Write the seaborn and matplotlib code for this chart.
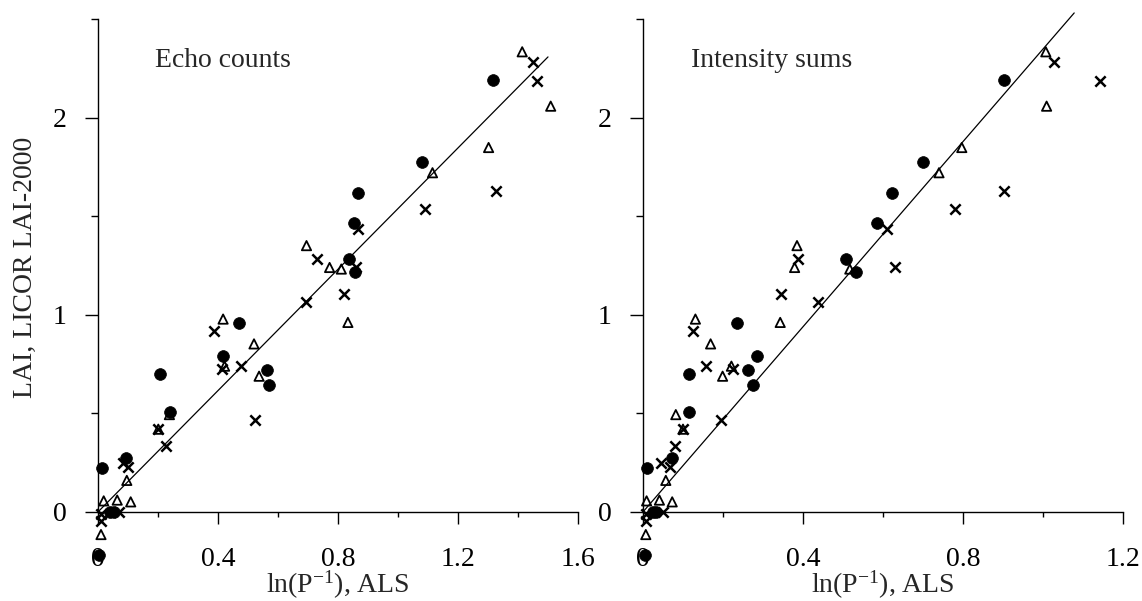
import numpy as np
import pandas as pd
import matplotlib
matplotlib.use("Agg")
import matplotlib.pyplot as plt
import seaborn as sns

sns.set_style("ticks")
plt.rcParams["font.family"] = ["Liberation Serif", "DejaVu Serif"]
plt.rcParams["mathtext.fontset"] = "custom"
plt.rcParams["mathtext.rm"] = "Liberation Serif"
plt.rcParams["mathtext.it"] = "Liberation Serif:italic"

# ---- data (LAI measured, shared by both panels) ----
circle_lai = [2.193, 1.778, 1.618, 1.467, 1.284, 1.216, 0.957, 0.790, 0.720, 0.642,
              0.702, 0.506, 0.222, 0.276, 0.0, 0.0, -0.217]
circle_echo = [1.315, 1.080, 0.868, 0.852, 0.838, 0.858, 0.469, 0.417, 0.562, 0.570,
               0.206, 0.241, 0.015, 0.093, 0.041, 0.054, 0.004]
circle_int = [0.902, 0.701, 0.623, 0.584, 0.507, 0.532, 0.236, 0.286, 0.262, 0.274,
              0.114, 0.114, 0.011, 0.073, 0.026, 0.032, 0.005]

tri_lai = [2.336, 2.060, 1.850, 1.722, 1.352, 1.241, 1.233, 0.962, 0.979, 0.853,
           0.740, 0.689, 0.494, 0.420, 0.160, 0.056, 0.060, 0.051, -0.115]
tri_echo = [1.414, 1.509, 1.302, 1.115, 0.695, 0.772, 0.811, 0.833, 0.417, 0.520,
            0.422, 0.537, 0.238, 0.201, 0.096, 0.019, 0.064, 0.109, 0.010]
tri_int = [1.007, 1.009, 0.797, 0.740, 0.385, 0.379, 0.517, 0.343, 0.131, 0.169,
           0.221, 0.199, 0.082, 0.100, 0.057, 0.009, 0.041, 0.073, 0.007]

cross_lai = [2.285, 2.190, 1.629, 1.540, 1.438, 1.282, 1.244, 1.108, 1.064, 0.916,
             0.724, 0.742, 0.466, 0.420, 0.334, 0.249, 0.226, 0.0, -0.012, -0.045]
cross_echo = [1.451, 1.463, 1.327, 1.089, 0.865, 0.731, 0.860, 0.819, 0.695, 0.385,
              0.414, 0.478, 0.522, 0.201, 0.228, 0.082, 0.099, 0.070, 0.010, 0.010]
cross_int = [1.027, 1.142, 0.902, 0.781, 0.610, 0.388, 0.630, 0.344, 0.438, 0.125,
             0.226, 0.158, 0.196, 0.100, 0.080, 0.046, 0.068, 0.050, 0.007, 0.007]

# regression lines (slope, intercept, x extent)
echo_fit = {"slope": 1.54, "intercept": 0.0, "xmin": 0.0, "xmax": 1.50}
int_fit = {"slope": 2.35, "intercept": 0.0, "xmin": 0.0, "xmax": 1.078}

panel_titles = ["Echo counts", "Intensity sums"]
x_label = r"ln(P$^{\mathrm{-1}}$), ALS"
y_label = "LAI, LICOR LAI-2000"
y_major = [0, 1, 2]
y_minor = [0.5, 1.5, 2.5]
y_ticklabels = ["0", "1", "2"]
x_major_left = [0, 0.4, 0.8, 1.2, 1.6]
x_minor_left = [0.2, 0.6, 1.0, 1.4]
x_labels_left = ["0", "0.4", "0.8", "1.2", "1.6"]
x_major_right = [0, 0.4, 0.8, 1.2]
x_minor_right = [0.2, 0.6, 1.0]
x_labels_right = ["0", "0.4", "0.8", "1.2"]

W, H = 1142, 601
fig = plt.figure(figsize=(W / 100, H / 100), dpi=100)
ylim = (-0.3, 2.6)
bottom = (H - 571) / H
height = 571.2 / H
ax1 = fig.add_axes([98 / W, bottom, 480 / W, height])
ax2 = fig.add_axes([643 / W, bottom, 480 / W, height])

FS = 20

def draw(ax, xc, xt, xx, fit, xlim, xmaj, xmin_, xlabels, title, ylab):
    dc = pd.DataFrame({"x": xc, "y": circle_lai})
    dt = pd.DataFrame({"x": xt, "y": tri_lai})
    dx = pd.DataFrame({"x": xx, "y": cross_lai})
    xs = np.array([fit["xmin"], fit["xmax"]])
    dl = pd.DataFrame({"x": xs, "y": fit["slope"] * xs + fit["intercept"]})
    sns.lineplot(data=dl, x="x", y="y", ax=ax, color="black", lw=0.9, clip_on=False)
    sns.scatterplot(data=dc, x="x", y="y", ax=ax, marker="o", s=72, color="black",
                    edgecolor="black", linewidth=0.5, clip_on=False, zorder=3)
    sns.scatterplot(data=dt, x="x", y="y", ax=ax, marker="^", s=45, facecolor="none",
                    edgecolor="black", linewidth=1.3, clip_on=False, zorder=3)
    sns.scatterplot(data=dx, x="x", y="y", ax=ax, marker="x", s=55, color="black",
                    linewidth=1.8, clip_on=False, zorder=3)
    ax.set_xlim(*xlim)
    ax.set_ylim(*ylim)
    sns.despine(ax=ax)
    ax.spines["bottom"].set_position(("data", 0))
    ax.spines["left"].set_position(("data", 0))
    ax.spines["bottom"].set_bounds(xlim[0], xlim[1])
    ax.spines["left"].set_bounds(0, 2.5)
    for sp in ("bottom", "left"):
        ax.spines[sp].set_linewidth(1.0)
        ax.spines[sp].set_color("black")
    ax.set_xticks(xmaj)
    ax.set_xticklabels(xlabels)
    ax.set_xticks(xmin_, minor=True)
    ax.set_yticks(y_major)
    ax.set_yticklabels(y_ticklabels)
    ax.set_yticks(y_minor, minor=True)
    ax.tick_params(axis="x", which="major", direction="out", length=8.5, width=1.0,
                   pad=17, labelsize=FS, colors="black")
    ax.tick_params(axis="x", which="minor", direction="out", length=3.5, width=1.0,
                   colors="black")
    ax.tick_params(axis="y", which="major", direction="out", length=9.4, width=1.0,
                   pad=13, labelsize=FS, colors="black")
    ax.tick_params(axis="y", which="minor", direction="out", length=5, width=1.0,
                   colors="black")
    ax.set_xlabel(x_label, fontsize=FS)
    ax.xaxis.set_label_coords(0.5, -0.025)
    ax.xaxis.label.set_verticalalignment("center")
    if ylab:
        ax.set_ylabel(y_label, fontsize=FS)
        ax.yaxis.set_label_coords(-0.152, 0.532)
        ax.yaxis.label.set_verticalalignment("center")
    else:
        ax.set_ylabel("")
    ax.text(title[1], 2.29, title[0], fontsize=FS, ha="left", va="center")
    ax.patch.set_alpha(0)

draw(ax1, circle_echo, tri_echo, cross_echo, echo_fit, (0, 1.6),
     x_major_left, x_minor_left, x_labels_left, (panel_titles[0], 0.19), True)
draw(ax2, circle_int, tri_int, cross_int, int_fit, (0, 1.2),
     x_major_right, x_minor_right, x_labels_right, (panel_titles[1], 0.12), False)

fig.savefig("out.png", dpi=100, facecolor="white")
